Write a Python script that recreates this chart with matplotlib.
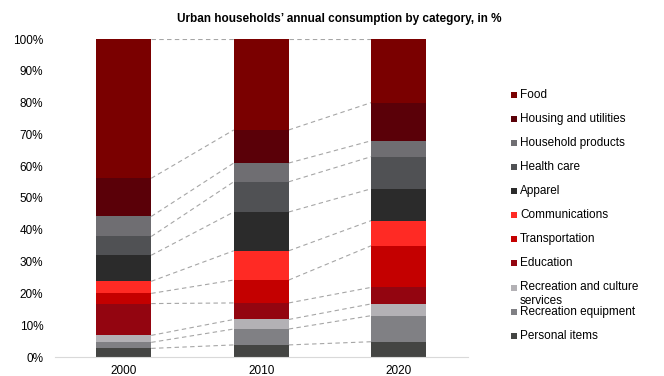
import matplotlib
matplotlib.use("Agg")
import matplotlib.pyplot as plt
import numpy as np

plt.rcParams["font.family"] = ["Liberation Sans", "DejaVu Sans"]

years = ["2000", "2010", "2020"]
# bottom to top
categories = [
    "Personal items", "Recreation equipment", "Recreation and culture\nservices",
    "Education", "Transportation", "Communications", "Apparel", "Health care",
    "Household products", "Housing and utilities", "Food",
]
colors = [
    "#444543", "#808084", "#b3b1b5", "#930510", "#c40000", "#ff2a24",
    "#2b2b2b", "#505154", "#6f6e72", "#5a0008", "#7a0000",
]
share_2000 = [2.7, 1.9, 2.2, 10.0, 3.2, 3.8, 8.2, 5.9, 6.3, 12.0, 43.8]
share_2010 = [3.8, 5.0, 3.0, 5.2, 7.2, 9.2, 12.2, 9.5, 5.9, 10.4, 28.6]
share_2020 = [4.8, 8.2, 3.7, 5.2, 13.1, 7.9, 10.0, 10.1, 5.0, 12.0, 20.0]

data = np.array([share_2000, share_2010, share_2020])
data = data / data.sum(axis=1, keepdims=True) * 100

FS = 8.5

fig = plt.figure(figsize=(6.64, 3.76), dpi=100)
ax = fig.add_axes([55 / 664, 19 / 376, 412.5 / 664, 318 / 376])

x = np.arange(len(years))
w = 0.4
bottoms = np.zeros(len(years))
for j, cat in enumerate(categories):
    ax.bar(x, data[:, j], w, bottom=bottoms, color=colors[j], linewidth=0, zorder=2)
    bottoms += data[:, j]

# dashed connectors between segment tops
cum = np.cumsum(data, axis=1)
for j in range(len(categories)):
    for i in range(len(years) - 1):
        ax.plot([x[i] + w / 2, x[i + 1] - w / 2], [cum[i, j], cum[i + 1, j]],
                color="#a6a6a6", lw=0.8, ls=(0, (4, 3)), zorder=1)

ax.set_xlim(-0.5, 2.5)
ax.set_ylim(0, 100)
ax.set_xticks(x)
ax.set_xticklabels(years, fontsize=FS)
ax.set_yticks(np.arange(0, 101, 10))
ax.set_yticklabels([f"{v}%" for v in range(0, 101, 10)], fontsize=FS)
ax.tick_params(axis="y", length=0, pad=8.5)
ax.tick_params(axis="x", length=0, pad=5.5)
for s in ["top", "right", "left"]:
    ax.spines[s].set_visible(False)
ax.spines["bottom"].set_color("#d9d9d9")

fig.text(339 / 664, 1 - 19 / 376,
         "Urban households\u2019 annual consumption by category, in %",
         ha="center", va="center", fontsize=FS, fontweight="bold")

# legend, top to bottom
leg_y0 = 94.7
leg_dy = 24.1
for k, j in enumerate(range(len(categories) - 1, -1, -1)):
    yp = leg_y0 + k * leg_dy
    fig.patches.append(plt.Rectangle((510.5 / 664, 1 - (yp + 3) / 376), 6 / 664, 6 / 376,
                                     transform=fig.transFigure, color=colors[j], lw=0))
    lines = categories[j].split("\n")
    fig.text(520 / 664, 1 - yp / 376, lines[0], ha="left", va="center", fontsize=FS)
    if len(lines) > 1:
        fig.text(520 / 664, 1 - (yp + 14) / 376, lines[1], ha="left", va="center",
                 fontsize=FS)

fig.savefig("out.png", dpi=100, facecolor="white")
